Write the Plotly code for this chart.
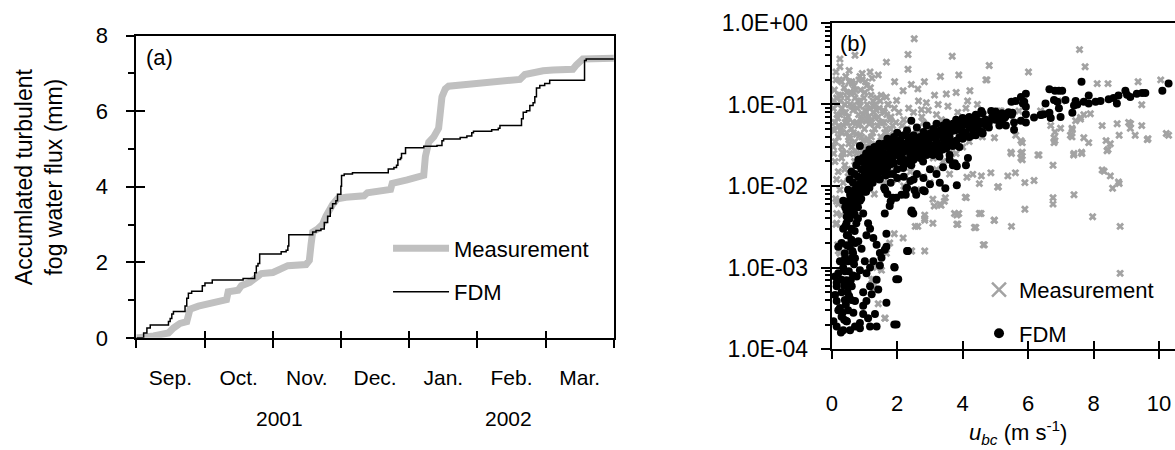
import plotly.graph_objects as go

# ---------------- Panel (a): accumulated flux (x in months since 1 Sep 2001) ----------------
month_labels = ["Sep.", "Oct.", "Nov.", "Dec.", "Jan.", "Feb.", "Mar."]
year_labels = ["2001", "2002"]

fdm_t = [0.0, 0.107, 0.155, 0.204, 0.471, 0.496, 0.52, 0.544, 0.714, 0.739, 0.763, 0.811,
         0.967, 1.006, 1.113, 1.565, 1.735, 1.759, 1.783, 1.808, 2.123, 2.196, 2.221, 2.235,
         2.585, 2.634, 2.706, 2.755, 2.804, 2.843, 2.877, 2.925, 2.949, 2.998, 3.008, 3.047,
         3.168, 3.693, 3.776, 3.814, 3.834, 3.873, 3.887, 3.946, 4.213, 4.407, 4.48, 4.504,
         4.747, 4.845, 4.917, 4.942, 5.209, 5.306, 5.33, 5.646, 5.671, 5.719, 5.768, 5.816,
         5.841, 5.865, 5.914, 5.986, 6.059, 6.57, 6.594, 7.0]
fdm_acc = [0.0, 0.13, 0.26, 0.34, 0.43, 0.51, 0.63, 0.70, 0.84, 1.05, 1.18, 1.23,
           1.38, 1.45, 1.53, 1.57, 1.72, 1.90, 1.97, 2.22, 2.28, 2.32, 2.43, 2.73,
           2.80, 2.84, 2.88, 3.05, 3.22, 3.43, 3.55, 3.63, 3.80, 4.01, 4.30, 4.34,
           4.37, 4.47, 4.51, 4.57, 4.72, 4.76, 4.88, 5.03, 5.07, 5.09, 5.22, 5.26,
           5.30, 5.34, 5.43, 5.47, 5.51, 5.55, 5.62, 5.80, 5.97, 6.01, 6.15, 6.22,
           6.38, 6.61, 6.68, 6.73, 6.82, 7.34, 7.38, 7.38]

meas_t = [0.0, 0.034, 0.253, 0.471, 0.544, 0.641, 0.739, 0.763, 0.787, 0.909, 1.03, 1.2,
          1.322, 1.346, 1.492, 1.54, 1.662, 1.783, 1.832, 2.002, 2.123, 2.221, 2.488,
          2.536, 2.561, 2.585, 2.658, 2.731, 2.779, 2.828, 2.877, 2.949, 3.071, 3.338,
          3.387, 3.727, 3.751, 3.97, 4.116, 4.213, 4.237, 4.286, 4.359, 4.431, 4.456,
          4.48, 4.529, 4.577, 4.796, 4.942, 5.136, 5.233, 5.355, 5.622, 5.695, 5.816,
          5.962, 6.108, 6.399, 6.448, 6.545, 7.0]
meas_acc = [0.0, 0.0, 0.05, 0.13, 0.26, 0.38, 0.43, 0.63, 0.76, 0.84, 0.88, 0.93,
            1.01, 1.22, 1.26, 1.38, 1.47, 1.63, 1.70, 1.73, 1.84, 1.91, 1.94,
            2.05, 2.47, 2.80, 2.88, 3.01, 3.22, 3.40, 3.53, 3.68, 3.72, 3.76,
            3.84, 3.93, 4.09, 4.18, 4.26, 4.30, 4.80, 5.18, 5.32, 5.55, 5.97,
            6.38, 6.59, 6.66, 6.70, 6.73, 6.76, 6.80, 6.83, 6.84, 6.97, 7.03,
            7.07, 7.09, 7.11, 7.22, 7.38, 7.40]

# ---------------- Panel (b): flux vs u_bc ----------------
meas_u = [2.52, 2.33, 3.68, 4.81, 0.25, 0.71, 0.25, 1.67, 2.33, 1.42, 1.17, 0.86, 0.61, 0.30, 1.92,
          2.83, 3.32, 3.88, 4.71, 2.43, 2.18, 2.63, 1.67, 1.98, 3.14, 3.50, 3.80, 4.22, 2.89, 2.74,
          4.10, 5.12, 4.31, 4.86, 4.13, 7.57, 7.74, 6.01, 4.74, 10.05, 9.36, 8.44, 9.47, 10.22, 9.64,
          8.26, 8.72, 9.13, 8.78, 8.38, 8.44, 8.32, 8.58, 8.78, 7.97, 8.81, 8.81, 7.40, 6.76, 6.76,
          6.76, 7.40, 7.63, 7.34, 7.34, 6.82, 6.82, 5.78, 5.78, 5.78, 5.49, 6.30, 5.90, 5.49, 4.97,
          4.63, 4.40, 3.82, 3.88, 3.82, 4.51, 4.11, 5.09, 5.38, 5.61, 5.90, 4.57, 4.51, 4.97, 2.84,
          2.44, 2.84, 2.55, 2.18, 1.91, 1.51, 1.28, 1.22, 1.63, 3.13, 3.30, 3.47, 0.15, 0.15, 0.15,
          0.18, 0.20, 8.11, 5.17, 6.38, 5.72, 7.04, 7.60, 7.70, 7.90, 6.69, 6.99, 7.35, 7.29, 7.70,
          7.85, 7.39, 7.64, 9.07, 9.12, 9.27, 9.47, 8.51, 8.41, 9.66, 10.29, 6.79, 6.79, 7.45, 7.60,
          5.47, 5.82, 5.82, 6.33, 5.62, 5.82, 8.26, 6.18, 8.51, 8.76, 5.07, 4.08, 3.75, 4.56, 4.96,
          4.36, 3.85, 4.66, 3.09, 3.34, 3.44, 2.84, 2.84, 3.09, 2.63, 2.43, 1.77, 1.67, 1.52, 1.37,
          1.27, 1.22, 1.42, 1.62, 0.20, 0.30, 0.13, 0.25, 0.25,
          0.05, 0.10, 0.15, 0.20, 0.25, 0.30, 0.35, 0.40, 0.45, 0.50, 0.55, 0.60, 0.65, 0.70, 0.75,
          0.80, 0.85, 0.90, 0.95, 1.00, 1.05, 1.10, 1.15, 1.20, 1.25, 1.30, 1.35, 1.40, 1.45, 1.50,
          1.60, 1.70, 1.80, 1.90, 0.10, 0.20, 0.30, 0.15, 0.40, 0.50, 0.60, 0.70, 0.25, 0.12, 0.35,
          0.05, 0.08, 0.18, 0.28, 0.38, 0.48, 0.58, 0.68, 0.78, 0.88, 0.98, 1.08, 1.18, 1.28, 1.38,
          1.48, 1.58, 1.68, 1.78, 0.30, 0.55, 0.75, 0.95, 1.15, 0.45, 0.65, 0.85, 1.05, 0.22, 0.42,
          0.62, 0.82, 1.02, 1.22, 1.42, 1.62, 2.00, 2.10, 2.20, 2.30, 2.50, 2.60, 2.70, 2.90, 3.00,
          3.10, 3.30, 3.40, 3.60, 3.80, 4.00, 4.20, 4.40, 4.60, 2.20, 2.50, 2.80, 3.20, 1.80, 2.00,
          2.40, 2.80, 3.20, 3.60, 1.50, 1.20, 1.00, 0.90, 1.30, 1.60, 2.20, 2.60, 3.00, 3.40,
          0.08, 0.18, 0.33, 0.52, 0.72, 0.92, 1.12, 1.32, 0.06, 0.27, 0.47, 0.67, 0.87, 1.07, 1.27,
          0.40, 0.60, 0.80, 1.00, 0.13, 0.33, 0.53, 0.73, 0.93, 1.13, 1.33, 1.53, 1.73,
          0.03, 0.07, 0.11, 0.16, 0.21, 0.26, 0.31, 0.36, 0.41, 0.46, 0.51, 0.56, 0.61, 0.66, 0.71,
          0.76, 0.81, 0.86, 0.91, 0.96, 1.01, 1.06, 1.11, 1.16, 1.21, 1.26, 1.31, 1.36, 1.41, 1.46,
          1.51, 1.56, 1.61, 1.66, 1.71, 1.76, 1.81, 1.86, 1.91, 1.96, 0.23, 0.43, 0.63, 0.83, 1.03,
          1.23, 0.53, 0.93, 0.13, 2.05, 2.35, 2.65, 2.95, 3.25, 3.55, 3.85, 4.15, 4.45, 4.65, 2.15,
          2.75, 3.35, 3.95, 4.25]
meas_v = [0.64, 0.41, 0.39, 0.30, 0.36, 0.40, 0.29, 0.33, 0.27, 0.23, 0.25, 0.22, 0.19, 0.19, 0.19,
          0.19, 0.22, 0.23, 0.20, 0.176, 0.147, 0.155, 0.123, 0.112, 0.13, 0.134, 0.14, 0.147, 0.105, 0.086,
          0.09, 0.083, 0.0139, 0.0145, 0.0128, 0.47, 0.29, 0.25, 0.20, 0.20, 0.19, 0.18, 0.099, 0.044, 0.037,
          0.055, 0.058, 0.058, 0.042, 0.036, 0.028, 0.0152, 0.0094, 0.0107, 0.0042, 0.0032, 0.00085, 0.0078, 0.0072, 0.006,
          0.018, 0.025, 0.026, 0.051, 0.040, 0.046, 0.036, 0.036, 0.025, 0.022, 0.025, 0.024, 0.0052, 0.0032, 0.0038,
          0.0019, 0.0031, 0.0034, 0.0046, 0.0044, 0.0046, 0.0072, 0.0098, 0.0133, 0.0145, 0.011, 0.0133, 0.0107, 0.039, 0.0016,
          0.0016, 0.004, 0.0032, 0.0023, 0.0026, 0.0014, 0.00057, 0.00071, 0.00024, 0.0057, 0.006, 0.0072, 0.0035, 0.0065, 0.0046,
          0.0019, 0.0016, 0.18, 0.083, 0.083, 0.083, 0.11, 0.069, 0.075, 0.077, 0.055, 0.051, 0.049, 0.042, 0.039,
          0.034, 0.024, 0.025, 0.06, 0.051, 0.042, 0.055, 0.033, 0.027, 0.038, 0.042, 0.039, 0.034, 0.063, 0.066,
          0.026, 0.026, 0.021, 0.024, 0.042, 0.034, 0.0157, 0.0117, 0.0133, 0.0112, 0.0097, 0.0073, 0.0046, 0.0046, 0.0038,
          0.0031, 0.0034, 0.0019, 0.0069, 0.0058, 0.0065, 0.0044, 0.0038, 0.0035, 0.0032, 0.0016, 0.002, 0.0015, 0.00093, 0.001,
          0.00072, 0.00059, 0.00036, 0.00024, 0.006, 0.0044, 0.0034, 0.0019, 0.0015,
          0.09, 0.06, 0.12, 0.04, 0.075, 0.03, 0.055, 0.10, 0.045, 0.07, 0.025, 0.05, 0.085, 0.035, 0.06,
          0.11, 0.042, 0.065, 0.028, 0.05, 0.08, 0.038, 0.058, 0.13, 0.045, 0.07, 0.032, 0.055, 0.09, 0.04,
          0.06, 0.035, 0.05, 0.028, 0.02, 0.015, 0.022, 0.012, 0.018, 0.013, 0.016, 0.02, 0.009, 0.007, 0.011,
          0.03, 0.15, 0.10, 0.13, 0.16, 0.12, 0.14, 0.17, 0.09, 0.15, 0.12, 0.10, 0.16, 0.095, 0.12,
          0.11, 0.085, 0.075, 0.065, 0.045, 0.038, 0.043, 0.036, 0.033, 0.065, 0.06, 0.058, 0.062, 0.055, 0.08,
          0.095, 0.075, 0.085, 0.06, 0.07, 0.045, 0.04, 0.03, 0.022, 0.05, 0.035, 0.045, 0.028, 0.038, 0.05,
          0.022, 0.033, 0.045, 0.028, 0.025, 0.03, 0.035, 0.05, 0.04, 0.065, 0.08, 0.06, 0.075, 0.015, 0.012,
          0.015, 0.013, 0.016, 0.014, 0.02, 0.022, 0.018, 0.01, 0.008, 0.011, 0.01, 0.009, 0.011, 0.02,
          0.048, 0.068, 0.026, 0.033, 0.027, 0.024, 0.03, 0.026, 0.025, 0.11, 0.06, 0.14, 0.11, 0.17, 0.08,
          0.016, 0.014, 0.012, 0.024, 0.2, 0.08, 0.19, 0.15, 0.2, 0.07, 0.1, 0.06, 0.1,
          0.05, 0.11, 0.035, 0.075, 0.13, 0.048, 0.09, 0.025, 0.06, 0.14, 0.04, 0.10, 0.03, 0.045, 0.12,
          0.025, 0.055, 0.095, 0.04, 0.075, 0.14, 0.03, 0.065, 0.09, 0.04, 0.11, 0.05, 0.085, 0.028, 0.06,
          0.13, 0.038, 0.08, 0.05, 0.10, 0.042, 0.07, 0.055, 0.09, 0.06, 0.20, 0.22, 0.18, 0.20, 0.19,
          0.21, 0.26, 0.24, 0.25, 0.08, 0.09, 0.11, 0.085, 0.10, 0.095, 0.08, 0.11, 0.10, 0.075, 0.055,
          0.07, 0.065, 0.06, 0.065]

fdm_u = [9.48, 9.58, 9.32, 9.12, 8.97, 9.02, 8.76, 8.61, 8.46, 8.71, 8.21, 8.06, 7.85, 7.85, 7.70,
         7.50, 7.40, 7.45, 7.14, 6.94, 7.04, 6.79, 6.89, 6.94, 6.53, 6.48, 6.38, 6.69, 6.99, 7.35,
         5.93, 5.88, 5.93, 5.62, 5.52, 5.27, 5.32, 5.57, 5.57, 5.78, 5.93, 5.93,
         4.57, 4.87, 5.07, 5.12, 4.31, 4.41, 4.51, 4.10, 3.90, 3.75, 4.00, 3.50, 4.31, 4.71, 4.61,
         3.80, 3.39, 3.19, 2.89, 2.68, 3.09, 2.48, 2.38, 2.18, 1.98, 1.87, 1.67, 1.37, 1.06, 1.17,
         1.47, 1.87, 2.18, 2.43, 2.79, 3.29, 3.60, 3.70, 4.10, 2.33, 2.43, 0.86, 1.06, 0.81, 1.52,
         7.63, 10.29, 10.10, 6.65, 6.82, 5.49, 5.78, 5.84, 6.18, 6.41, 6.65, 3.82, 4.16, 3.76, 3.82,
         3.47, 2.84, 2.26, 2.49, 2.44, 2.30, 1.91, 1.97, 1.91, 1.63, 1.97, 1.80,
         2.33, 1.92, 2.03, 1.98, 1.67, 1.37, 1.42, 1.47, 1.52, 1.67, 1.62, 1.47, 1.27, 1.17, 1.06,
         1.17, 0.96, 1.06, 1.22, 0.96, 1.11, 1.17, 1.37, 1.32, 0.86, 0.71, 0.56, 0.35, 0.15, 0.05,
         0.25, 0.15, 0.10, 0.15, 0.30, 0.10, 0.20, 0.35, 0.41, 0.46, 0.46, 0.41, 0.46, 0.41, 0.35,
         0.56, 0.76, 0.86, 0.96, 1.11, 1.17, 1.06, 0.81, 0.91, 0.71, 0.86, 0.61, 0.71, 0.66, 0.46,
         0.86, 0.96, 0.76, 1.27, 1.37, 1.62, 1.77, 1.87, 2.13, 2.28, 2.53, 2.43, 2.58, 2.79, 1.67, 1.01,
         0.30, 0.35, 0.40, 0.45, 0.50, 0.55, 0.60, 0.65, 0.70, 0.75, 0.80, 0.85, 0.90, 0.95, 1.00,
         1.05, 1.10, 1.15, 1.20, 1.25, 1.30, 1.35, 1.40, 1.45, 1.50, 1.55, 1.60, 1.70, 1.75, 1.80,
         1.85, 1.90, 1.95, 2.00, 2.05, 2.10, 2.15, 2.20, 2.25, 2.30, 2.35, 2.40, 2.45, 2.50, 2.55,
         2.60, 2.65, 2.70, 2.75, 2.80, 2.85, 2.90, 2.95, 3.00, 3.05, 3.10, 3.15, 3.20, 3.25, 3.30,
         3.35, 3.40, 3.45, 3.50, 3.55, 3.60, 3.65, 3.70, 3.75, 3.80, 3.85, 3.90, 3.95, 4.00, 4.10,
         4.20, 4.30, 4.40, 4.50, 4.60, 4.70, 4.80, 4.90, 5.00, 5.10, 5.20, 5.30, 5.40, 5.50, 0.60,
         0.70, 0.55, 0.90, 1.00, 1.10, 1.20, 0.80, 1.30, 1.40, 1.50, 1.60, 1.70, 1.80, 1.90, 2.00,
         2.10, 2.20, 2.40, 2.60, 2.80, 3.00, 3.20, 3.40, 3.60, 0.35, 0.40, 0.45, 0.50, 0.55, 0.60,
         0.65, 0.70, 0.75, 0.80, 0.30, 0.40, 0.50, 0.60, 0.20, 0.30, 0.45, 0.55, 0.65, 0.25, 0.20, 0.15,
         0.38, 0.52, 0.62, 0.72, 0.48, 0.58, 0.68, 0.33, 0.43, 0.53, 0.63, 0.28, 0.38,
         0.50, 0.55, 0.60, 0.65, 0.70, 0.75, 0.80, 0.85, 0.90, 0.95, 1.00, 1.05, 1.10, 1.15, 1.20,
         1.25, 1.30, 1.35, 1.40, 1.45, 0.45, 0.50, 0.55, 0.60, 0.65, 0.70, 0.75, 0.80, 0.85, 0.90,
         0.95, 1.00, 1.05, 1.10, 1.15, 1.20, 1.25, 1.30, 1.35, 1.40, 1.45, 1.50, 1.55, 1.60, 1.65,
         1.70, 1.75, 1.80, 1.60, 1.70, 1.80, 1.90, 2.00, 2.10, 2.20, 2.30, 2.40, 2.50, 2.60, 2.70,
         2.80, 2.90, 3.00, 3.10, 3.20, 3.30, 3.40, 3.50, 3.60, 3.70, 3.80, 3.90, 4.00, 4.10, 4.20,
         4.30, 4.40, 4.50, 4.60, 4.80, 5.00, 5.20, 1.90, 2.00, 2.10, 2.20, 2.30, 2.40, 2.50, 2.60,
         2.70, 2.80, 2.90, 3.00, 3.10, 3.20, 3.30, 3.40, 3.50, 3.60, 3.70, 3.80, 3.90, 4.00, 4.20,
         4.40, 4.60, 2.00, 2.20, 2.40, 2.60, 2.80, 3.00, 3.20, 3.40, 3.60, 1.80, 1.60, 1.70, 2.30,
         2.50, 3.30, 3.00]
fdm_v = [0.138, 0.138, 0.135, 0.123, 0.147, 0.131, 0.129, 0.12, 0.116, 0.103, 0.11, 0.108, 0.129, 0.103, 0.108,
         0.10, 0.097, 0.11, 0.113, 0.147, 0.147, 0.113, 0.108, 0.09, 0.103, 0.076, 0.074, 0.068, 0.07, 0.079,
         0.135, 0.108, 0.094, 0.11, 0.079, 0.068, 0.055, 0.06, 0.049, 0.063, 0.076, 0.06,
         0.083, 0.083, 0.069, 0.055, 0.063, 0.072, 0.058, 0.066, 0.055, 0.048, 0.044, 0.039, 0.042, 0.055, 0.044,
         0.036, 0.028, 0.031, 0.031, 0.024, 0.024, 0.023, 0.028, 0.026, 0.024, 0.02, 0.018, 0.0166, 0.0153, 0.0117,
         0.0122, 0.014, 0.0166, 0.018, 0.02, 0.023, 0.021, 0.018, 0.018, 0.04, 0.063, 0.031, 0.02, 0.021, 0.021,
         0.19, 0.18, 0.147, 0.154, 0.147, 0.108, 0.123, 0.103, 0.069, 0.075, 0.079, 0.0102, 0.022, 0.019, 0.0175,
         0.0094, 0.0086, 0.0078, 0.0046, 0.005, 0.0016, 0.00102, 0.00072, 0.0002, 0.009, 0.0072, 0.0065,
         0.0016, 0.001, 0.00072, 0.0002, 0.00037, 0.00071, 0.00054, 0.00106, 0.00132, 0.0018, 0.00165, 0.00151, 0.0012, 0.001, 0.00085,
         0.00059, 0.0005, 0.00039, 0.00047, 0.00027, 0.00024, 0.00019, 0.00019, 0.00027, 0.00021, 0.00019, 0.00017, 0.00017, 0.00019, 0.00022,
         0.00032, 0.00039, 0.00046, 0.00059, 0.00071, 0.00078, 0.00085, 0.001, 0.00132, 0.00188, 0.0025, 0.0032, 0.0042, 0.0055, 0.0066,
         0.0078, 0.0093, 0.0066, 0.0046, 0.0035, 0.003, 0.0025, 0.0021, 0.0017, 0.0013, 0.00093, 0.00059, 0.00039, 0.00028, 0.00022,
         0.00018, 0.00034, 0.00078, 0.0023, 0.0019, 0.0046, 0.0057, 0.0072, 0.0078, 0.0093, 0.0089, 0.0048, 0.0078, 0.0089, 0.0026, 0.0012,
         0.002, 0.003, 0.0015, 0.0035, 0.0025, 0.004, 0.003, 0.005, 0.0045, 0.006, 0.0055, 0.008, 0.007, 0.009, 0.0085,
         0.011, 0.01, 0.013, 0.012, 0.014, 0.016, 0.013, 0.018, 0.015, 0.019, 0.017, 0.021, 0.02, 0.023, 0.022,
         0.025, 0.024, 0.027, 0.026, 0.029, 0.028, 0.031, 0.03, 0.033, 0.027, 0.032, 0.036, 0.03, 0.034, 0.038,
         0.033, 0.036, 0.04, 0.035, 0.038, 0.042, 0.037, 0.04, 0.044, 0.039, 0.042, 0.046, 0.041, 0.045, 0.048,
         0.043, 0.047, 0.05, 0.045, 0.049, 0.052, 0.047, 0.051, 0.054, 0.049, 0.053, 0.057, 0.05, 0.055, 0.058,
         0.052, 0.06, 0.056, 0.062, 0.058, 0.065, 0.06, 0.07, 0.065, 0.072, 0.078, 0.07, 0.08, 0.075, 0.0075,
         0.009, 0.006, 0.012, 0.014, 0.016, 0.018, 0.0095, 0.022, 0.025, 0.028, 0.025, 0.03, 0.027, 0.032, 0.035,
         0.02, 0.018, 0.022, 0.025, 0.03, 0.032, 0.035, 0.038, 0.04, 0.0012, 0.0009, 0.0007, 0.0012, 0.0018, 0.0022,
         0.0015, 0.0028, 0.0035, 0.004, 0.0005, 0.0004, 0.0003, 0.0004, 0.0003, 0.00025, 0.00022, 0.0006, 0.0008, 0.0012, 0.0018, 0.00065,
         0.0006, 0.0009, 0.0013, 0.002, 0.0005, 0.0007, 0.0011, 0.00028, 0.00035, 0.00045, 0.0016, 0.00016, 0.00023,
         0.009, 0.012, 0.015, 0.011, 0.014, 0.018, 0.013, 0.02, 0.016, 0.022, 0.019, 0.025, 0.021, 0.028, 0.024,
         0.02, 0.03, 0.026, 0.021, 0.033, 0.005, 0.0065, 0.0045, 0.0055, 0.0068, 0.0058, 0.0078, 0.007, 0.0105, 0.0088,
         0.011, 0.0105, 0.0085, 0.0125, 0.0095, 0.0145, 0.011, 0.0125, 0.0165, 0.0135, 0.012, 0.015, 0.021, 0.0165, 0.0135,
         0.017, 0.014, 0.0185, 0.033, 0.038, 0.035, 0.04, 0.045, 0.037, 0.042, 0.048, 0.026, 0.042, 0.052, 0.03,
         0.046, 0.055, 0.027, 0.05, 0.058, 0.03, 0.055, 0.06, 0.033, 0.058, 0.065, 0.04, 0.068, 0.045, 0.07,
         0.05, 0.075, 0.048, 0.078, 0.052, 0.082, 0.06, 0.019, 0.016, 0.023, 0.021, 0.019, 0.024, 0.021, 0.028,
         0.022, 0.026, 0.024, 0.028, 0.026, 0.03, 0.027, 0.032, 0.029, 0.036, 0.031, 0.034, 0.03, 0.038, 0.04,
         0.042, 0.046, 0.0125, 0.013, 0.0115, 0.014, 0.0125, 0.016, 0.014, 0.017, 0.024, 0.011, 0.0095, 0.008, 0.0095,
         0.012, 0.011, 0.0105]

FONT = "Liberation Sans, Arial, sans-serif"
W, H = 1175, 450
GRAY_LINE = "#c0c0c0"
GRAY_X = "#a3a3a3"

fig = go.Figure()

# Panel (a) lines
fig.add_trace(go.Scatter(x=meas_t, y=meas_acc, mode="lines", name="Measurement",
                         line=dict(color=GRAY_LINE, width=7), xaxis="x", yaxis="y",
                         legend="legend", legendgroup="a1"))
fig.add_trace(go.Scatter(x=fdm_t, y=fdm_acc, mode="lines", name="FDM", line_shape="hv",
                         line=dict(color="black", width=1.5), xaxis="x", yaxis="y",
                         legend="legend", legendgroup="a2"))
# empty traces to activate overlay axes (inner half of crossing ticks)
fig.add_trace(go.Scatter(x=[], y=[], xaxis="x3", yaxis="y3", showlegend=False, hoverinfo="skip"))
fig.add_trace(go.Scatter(x=[], y=[], xaxis="x4", yaxis="y4", showlegend=False, hoverinfo="skip"))

# Panel (b) scatter
fig.add_trace(go.Scatter(x=meas_u, y=meas_v, mode="markers", showlegend=False,
                         marker=dict(symbol="x", size=7, color=GRAY_X, line=dict(width=0)),
                         xaxis="x2", yaxis="y2"))
fig.add_trace(go.Scatter(x=fdm_u, y=fdm_v, mode="markers", showlegend=False,
                         marker=dict(symbol="circle", size=8, color="black", line=dict(width=0)),
                         xaxis="x2", yaxis="y2"))
# legend entries for panel (b)
fig.add_trace(go.Scatter(x=[None], y=[None], mode="markers", name="Measurement",
                         marker=dict(symbol="x-thin", size=14, color=GRAY_X, line=dict(width=2.5, color=GRAY_X)),
                         xaxis="x2", yaxis="y2", legend="legend2", legendgroup="b1"))
fig.add_trace(go.Scatter(x=[None], y=[None], mode="markers", name="FDM",
                         marker=dict(symbol="circle", size=10, color="black"),
                         xaxis="x2", yaxis="y2", legend="legend2", legendgroup="b2"))

axcommon = dict(showgrid=False, zeroline=False, linecolor="black", tickcolor="black")

xa_dom = [131 / W, 611 / W]
ya_dom = [(H - 345) / H, (H - 25) / H]
xb_dom = [830 / W, 1.0]
yb_dom = [(H - 357) / H, (H - 11.5) / H]

log_major = [1e-4, 1e-3, 1e-2, 1e-1, 1.0]
log_labels = ["1.0E-04", "1.0E-03", "1.0E-02", "1.0E-01", "1.0E+00"]
log_minor = [k * 10.0 ** e for e in range(-4, 0) for k in range(2, 10)]

fig.update_layout(
    width=W, height=H, margin=dict(l=0, r=0, t=0, b=0),
    paper_bgcolor="white", plot_bgcolor="white",
    font=dict(family=FONT, size=22, color="black"),
    xaxis=dict(domain=xa_dom, anchor="y", range=[0, 7], tickmode="array",
               tickvals=[i + 0.5 for i in range(7)], ticktext=month_labels, ticks="",
               tickfont=dict(family=FONT, size=21, color="black"),
               showline=True, linewidth=2, mirror=True, ticklabelstandoff=20,
               minor=dict(tickvals=list(range(8)), ticks="outside", ticklen=8, tickwidth=2,
                          tickcolor="black", showgrid=False),
               **axcommon),
    xaxis3=dict(overlaying="x", anchor="y", range=[0, 7], tickmode="array",
                tickvals=list(range(8)), ticks="inside", ticklen=7, tickwidth=2,
                showticklabels=False, showline=False, showgrid=False, zeroline=False,
                tickcolor="black"),
    yaxis=dict(domain=ya_dom, anchor="x", range=[0, 8], tickmode="array",
               tickvals=[0, 2, 4, 6, 8], ticks="outside", ticklen=8, tickwidth=2,
               tickfont=dict(family=FONT, size=22, color="black"),
               showline=True, linewidth=2, mirror=True, ticklabelstandoff=14,
               minor=dict(tickvals=[1, 3, 5, 7], ticks="outside", ticklen=6, tickwidth=2,
                          tickcolor="black", showgrid=False),
               **axcommon),
    yaxis3=dict(overlaying="y", anchor="x", range=[0, 8], tickmode="array",
                tickvals=[0, 2, 4, 6, 8], ticks="inside", ticklen=9, tickwidth=2,
                showticklabels=False, showline=False, showgrid=False, zeroline=False,
                tickcolor="black"),
    xaxis2=dict(domain=xb_dom, anchor="y2", range=[0, 345 / 32.9], tickmode="array",
                tickvals=[0, 2, 4, 6, 8, 10], ticks="outside", ticklen=8, tickwidth=2,
                tickfont=dict(family=FONT, size=22, color="black"),
                showline=True, linewidth=2, mirror=True, ticklabelstandoff=25,
                **axcommon),
    xaxis4=dict(overlaying="x2", anchor="y2", range=[0, 345 / 32.9], tickmode="array",
                tickvals=[0, 2, 4, 6, 8, 10], ticks="inside", ticklen=8, tickwidth=2,
                showticklabels=False, showline=False, showgrid=False, zeroline=False,
                tickcolor="black"),
    yaxis2=dict(domain=yb_dom, anchor="x2", type="log", range=[-4, 0], tickmode="array",
                tickvals=log_major, ticktext=log_labels, ticks="outside", ticklen=9, tickwidth=2,
                tickfont=dict(family=FONT, size=23, color="black"),
                showline=True, linewidth=2, mirror=False, ticklabelstandoff=8,
                minor=dict(tickvals=log_minor, ticks="outside", ticklen=5, tickwidth=1.5,
                           tickcolor="black", showgrid=False),
                **axcommon),
    yaxis4=dict(overlaying="y2", anchor="x2", type="log", range=[-4, 0], tickmode="array",
                tickvals=log_major, ticks="inside", ticklen=8, tickwidth=2,
                showticklabels=False, showline=False, showgrid=False, zeroline=False,
                tickcolor="black"),
    legend=dict(x=384 / W, y=1 - 228 / H, xanchor="left", yanchor="top",
                bgcolor="rgba(0,0,0,0)", borderwidth=0, itemwidth=56,
                font=dict(family=FONT, size=22, color="black"),
                traceorder="grouped", tracegroupgap=12),
    legend2=dict(x=978 / W, y=1 - 272 / H, xanchor="left", yanchor="top",
                 bgcolor="rgba(0,0,0,0)", borderwidth=0, itemwidth=30,
                 font=dict(family=FONT, size=22, color="black"),
                 traceorder="grouped", tracegroupgap=12),
    showlegend=True,
)

annots = [
    dict(text="(a)", x=139 / W, y=1 - 48 / H, xanchor="left", yanchor="middle", size=22),
    dict(text="(b)", x=836 / W, y=1 - 33 / H, xanchor="left", yanchor="middle", size=22),
    dict(text=year_labels[0], x=275 / W, y=1 - 430 / H, xanchor="center", yanchor="middle", size=21),
    dict(text=year_labels[1], x=505 / W, y=1 - 430 / H, xanchor="center", yanchor="middle", size=21),
    dict(text="Accumlated turbulent<br>fog water flux (mm)", x=34 / W, y=1 - 174 / H,
         xanchor="center", yanchor="middle", textangle=-90, size=23),
    dict(text="<i>u</i><sub><i>bc</i></sub> (m s<sup>-1</sup>)", x=1017 / W, y=1 - 445 / H,
         xanchor="center", yanchor="middle", size=22),
]
for a in annots:
    sz = a.pop("size")
    a.update(xref="paper", yref="paper", showarrow=False,
             font=dict(family=FONT, size=sz, color="black"))
    fig.add_annotation(**a)

fig.write_html("out.html")
